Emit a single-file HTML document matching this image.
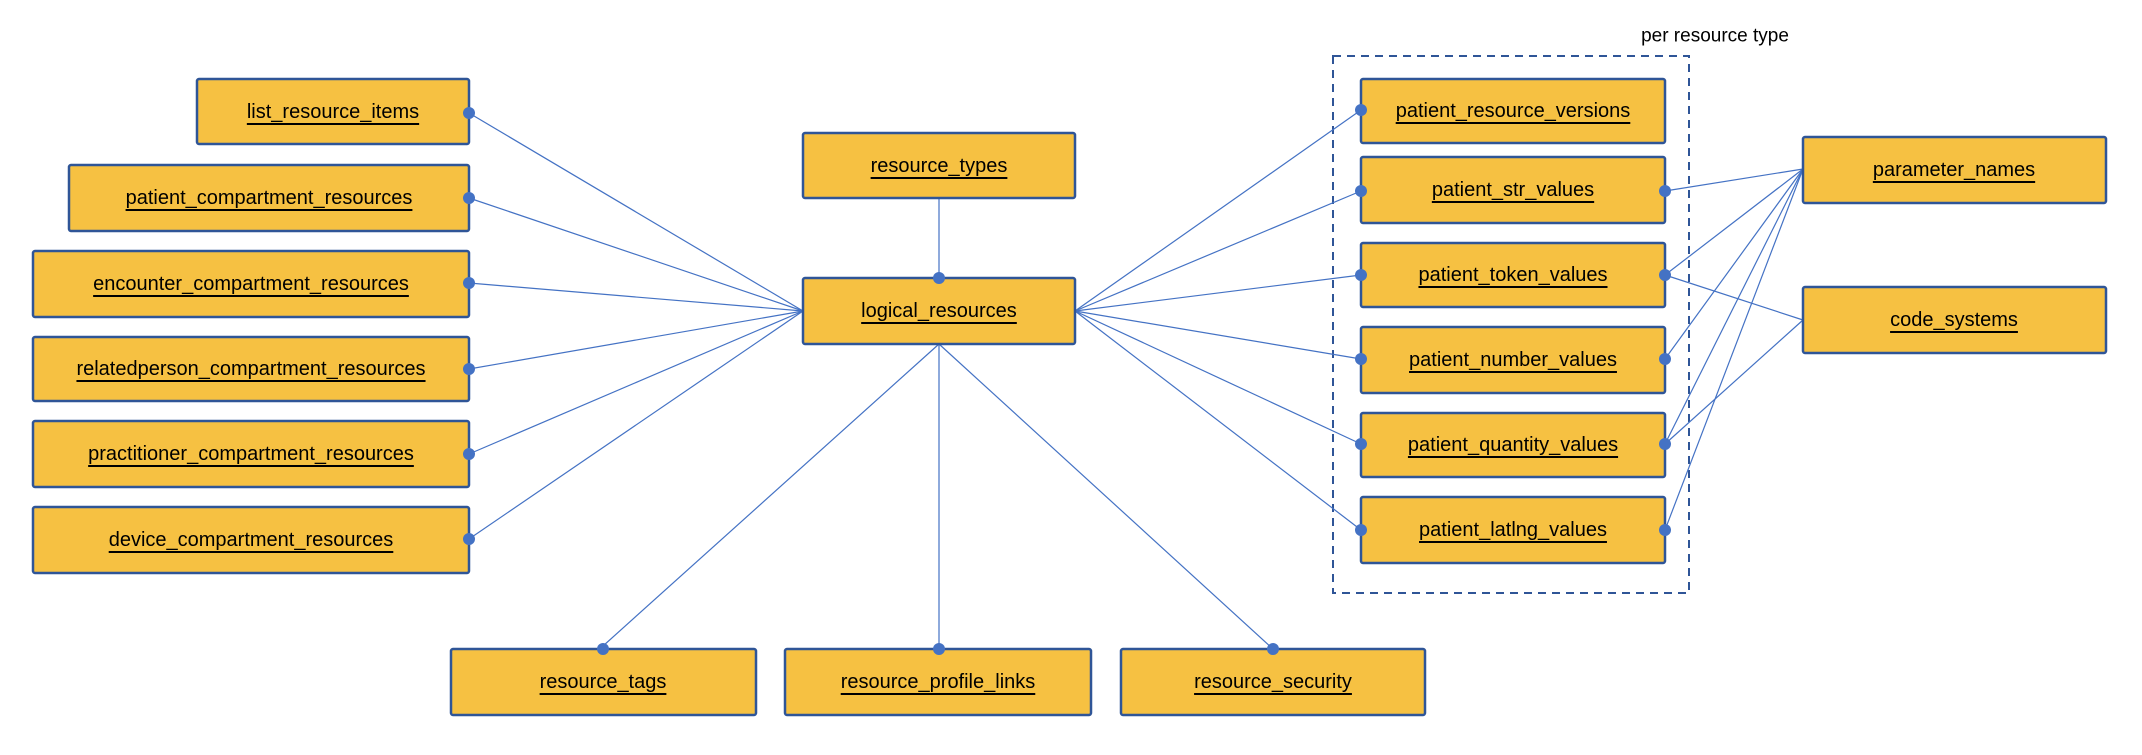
<!DOCTYPE html>
<html><head><meta charset="utf-8"><style>
html,body{margin:0;padding:0;background:#fff;}
svg text{font-family:"Liberation Sans",sans-serif;}
</style></head><body>
<svg width="2142" height="750" xmlns="http://www.w3.org/2000/svg">
<defs><style>
.b{fill:#F6C142;stroke:#2F5597;stroke-width:2.5;}
.l{stroke:#4472C4;stroke-width:1.2;fill:none;}
.d{fill:#4472C4;}
.t{font-size:20px;fill:#000;text-anchor:middle;dominant-baseline:central;text-decoration-line:underline;text-decoration-style:wavy;text-decoration-color:#e00;}
</style></defs>
<rect x="1333" y="56" width="356" height="537" fill="none" stroke="#2F5597" stroke-width="2" stroke-dasharray="8,6"/>
<text x="1715" y="36" style="font-size:19px;text-anchor:middle;dominant-baseline:central;">per resource type</text>
<g class="l">
<line x1="469" y1="113" x2="803" y2="311"/>
<line x1="469" y1="198" x2="803" y2="311"/>
<line x1="469" y1="283" x2="803" y2="311"/>
<line x1="469" y1="369" x2="803" y2="311"/>
<line x1="469" y1="454" x2="803" y2="311"/>
<line x1="469" y1="539" x2="803" y2="311"/>
<line x1="939" y1="198" x2="939" y2="278"/>
<line x1="939" y1="344" x2="603" y2="646"/>
<line x1="939" y1="344" x2="939" y2="649"/>
<line x1="939" y1="344" x2="1273" y2="649"/>
<line x1="1075" y1="311" x2="1361" y2="110"/>
<line x1="1075" y1="311" x2="1361" y2="191"/>
<line x1="1075" y1="311" x2="1361" y2="275"/>
<line x1="1075" y1="311" x2="1361" y2="359"/>
<line x1="1075" y1="311" x2="1361" y2="444"/>
<line x1="1075" y1="311" x2="1361" y2="530"/>
<line x1="1665" y1="191" x2="1803" y2="169"/>
<line x1="1665" y1="275" x2="1803" y2="169"/>
<line x1="1665" y1="359" x2="1803" y2="169"/>
<line x1="1665" y1="444" x2="1803" y2="169"/>
<line x1="1665" y1="530" x2="1803" y2="169"/>
<line x1="1665" y1="275" x2="1803" y2="320"/>
<line x1="1665" y1="444" x2="1803" y2="320"/>
</g>
<rect class="b" x="197" y="79" width="272" height="65" rx="2"/><text class="t" x="333" y="112">list_resource_items</text>
<rect class="b" x="69" y="165" width="400" height="66" rx="2"/><text class="t" x="269" y="198">patient_compartment_resources</text>
<rect class="b" x="33" y="251" width="436" height="66" rx="2"/><text class="t" x="251" y="284">encounter_compartment_resources</text>
<rect class="b" x="33" y="337" width="436" height="64" rx="2"/><text class="t" x="251" y="369">relatedperson_compartment_resources</text>
<rect class="b" x="33" y="421" width="436" height="66" rx="2"/><text class="t" x="251" y="454">practitioner_compartment_resources</text>
<rect class="b" x="33" y="507" width="436" height="66" rx="2"/><text class="t" x="251" y="540">device_compartment_resources</text>
<rect class="b" x="803" y="133" width="272" height="65" rx="2"/><text class="t" x="939" y="166">resource_types</text>
<rect class="b" x="803" y="278" width="272" height="66" rx="2"/><text class="t" x="939" y="311">logical_resources</text>
<rect class="b" x="451" y="649" width="305" height="66" rx="2"/><text class="t" x="603" y="682">resource_tags</text>
<rect class="b" x="785" y="649" width="306" height="66" rx="2"/><text class="t" x="938" y="682">resource_profile_links</text>
<rect class="b" x="1121" y="649" width="304" height="66" rx="2"/><text class="t" x="1273" y="682">resource_security</text>
<rect class="b" x="1361" y="79" width="304" height="64" rx="2"/><text class="t" x="1513" y="111">patient_resource_versions</text>
<rect class="b" x="1361" y="157" width="304" height="66" rx="2"/><text class="t" x="1513" y="190">patient_str_values</text>
<rect class="b" x="1361" y="243" width="304" height="64" rx="2"/><text class="t" x="1513" y="275">patient_token_values</text>
<rect class="b" x="1361" y="327" width="304" height="66" rx="2"/><text class="t" x="1513" y="360">patient_number_values</text>
<rect class="b" x="1361" y="413" width="304" height="64" rx="2"/><text class="t" x="1513" y="445">patient_quantity_values</text>
<rect class="b" x="1361" y="497" width="304" height="66" rx="2"/><text class="t" x="1513" y="530">patient_latlng_values</text>
<rect class="b" x="1803" y="137" width="303" height="66" rx="2"/><text class="t" x="1954" y="170">parameter_names</text>
<rect class="b" x="1803" y="287" width="303" height="66" rx="2"/><text class="t" x="1954" y="320">code_systems</text>
<g class="d">
<circle cx="469" cy="113" r="6"/><circle cx="469" cy="198" r="6"/><circle cx="469" cy="283" r="6"/>
<circle cx="469" cy="369" r="6"/><circle cx="469" cy="454" r="6"/><circle cx="469" cy="539" r="6"/>
<circle cx="939" cy="278" r="6"/><circle cx="603" cy="649" r="6"/><circle cx="939" cy="649" r="6"/><circle cx="1273" cy="649" r="6"/>
<circle cx="1361" cy="110" r="6"/><circle cx="1361" cy="191" r="6"/><circle cx="1361" cy="275" r="6"/>
<circle cx="1361" cy="359" r="6"/><circle cx="1361" cy="444" r="6"/><circle cx="1361" cy="530" r="6"/>
<circle cx="1665" cy="191" r="6"/><circle cx="1665" cy="275" r="6"/><circle cx="1665" cy="359" r="6"/>
<circle cx="1665" cy="444" r="6"/><circle cx="1665" cy="530" r="6"/>
</g>
</svg>
</body></html>
